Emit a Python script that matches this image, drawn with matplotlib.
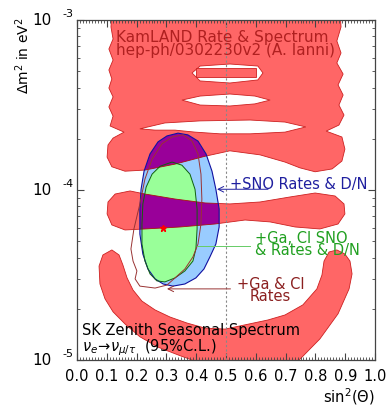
import numpy as np
import matplotlib
matplotlib.use('Agg')
import matplotlib.pyplot as plt
from matplotlib.path import Path
from matplotlib.patches import PathPatch
from matplotlib import transforms
from matplotlib.ticker import MultipleLocator, LogLocator, NullFormatter, FixedLocator

# --- KamLAND rate & spectrum region (sin^2, dm^2 in eV^2) ---
# upper band + first lobe, outer boundary
kam_upper = np.array([
    [0.883, 1.10e-3], [0.886, 9.10e-4], [0.872, 7.53e-4], [0.886, 6.40e-4],
    [0.872, 5.59e-4], [0.893, 4.81e-4], [0.876, 4.15e-4], [0.893, 3.62e-4],
    [0.879, 3.16e-4], [0.896, 2.76e-4], [0.879, 2.41e-4], [0.836, 2.22e-4],
    [0.889, 2.05e-4], [0.899, 1.74e-4], [0.889, 1.48e-4], [0.856, 1.33e-4],
    [0.799, 1.28e-4], [0.748, 1.35e-4], [0.698, 1.46e-4], [0.614, 1.61e-4],
    [0.513, 1.70e-4], [0.430, 1.58e-4], [0.329, 1.42e-4], [0.228, 1.31e-4],
    [0.161, 1.29e-4], [0.117, 1.37e-4], [0.101, 1.56e-4], [0.104, 1.84e-4],
    [0.121, 2.02e-4], [0.158, 2.19e-4], [0.111, 2.38e-4], [0.121, 2.72e-4],
    [0.107, 3.08e-4], [0.121, 3.53e-4], [0.107, 3.98e-4], [0.117, 4.50e-4],
    [0.107, 5.08e-4], [0.121, 5.82e-4], [0.107, 6.75e-4], [0.121, 7.73e-4],
    [0.114, 9.10e-4], [0.117, 1.10e-3]])
# holes inside the upper band
kam_hole1 = np.array([
    [0.386, 4.88e-4], [0.413, 5.36e-4], [0.513, 5.51e-4], [0.607, 5.36e-4],
    [0.624, 4.88e-4], [0.607, 4.44e-4], [0.513, 4.26e-4], [0.413, 4.38e-4]])
kam_island = np.array([
    [0.399, 5.22e-4], [0.601, 5.22e-4], [0.601, 4.62e-4], [0.399, 4.62e-4]])
kam_hole2 = np.array([
    [0.352, 3.38e-4], [0.413, 3.57e-4], [0.513, 3.67e-4], [0.597, 3.57e-4],
    [0.648, 3.38e-4], [0.597, 3.21e-4], [0.513, 3.12e-4], [0.413, 3.16e-4]])
kam_hole3 = np.array([
    [0.211, 2.29e-4], [0.295, 2.48e-4], [0.413, 2.55e-4], [0.581, 2.58e-4],
    [0.698, 2.51e-4], [0.768, 2.35e-4], [0.698, 2.19e-4], [0.581, 2.14e-4],
    [0.480, 2.14e-4], [0.396, 2.19e-4], [0.329, 2.25e-4], [0.262, 2.25e-4]])
# second lobe
kam_lobe2 = np.array([
    [0.128, 9.47e-5], [0.178, 9.87e-5], [0.228, 9.47e-5], [0.329, 8.85e-5],
    [0.430, 8.39e-5], [0.513, 8.28e-5], [0.614, 8.50e-5], [0.715, 9.10e-5],
    [0.799, 9.60e-5], [0.866, 9.22e-5], [0.896, 8.28e-5], [0.899, 7.23e-5],
    [0.876, 6.31e-5], [0.815, 5.90e-5], [0.732, 6.06e-5], [0.648, 6.49e-5],
    [0.564, 6.66e-5], [0.463, 6.31e-5], [0.346, 6.06e-5], [0.289, 5.98e-5],
    [0.228, 5.90e-5], [0.161, 5.82e-5], [0.117, 6.23e-5], [0.101, 7.23e-5],
    [0.104, 8.50e-5]])
# low dm^2 banana
kam_banana = np.array([
    [0.117, 4.44e-5], [0.087, 4.15e-5], [0.074, 3.57e-5], [0.077, 2.80e-5],
    [0.094, 2.29e-5], [0.121, 1.92e-5], [0.161, 1.63e-5], [0.211, 1.37e-5],
    [0.272, 1.19e-5], [0.346, 1.06e-5], [0.413, 9.60e-6], [0.547, 8.62e-6],
    [0.698, 9.10e-6], [0.748, 1.01e-5], [0.815, 1.33e-5], [0.876, 1.87e-5],
    [0.913, 2.62e-5], [0.923, 3.21e-5], [0.916, 3.82e-5], [0.899, 4.20e-5],
    [0.872, 4.44e-5], [0.846, 4.32e-5], [0.829, 3.82e-5], [0.822, 3.16e-5],
    [0.805, 2.62e-5], [0.758, 2.11e-5], [0.698, 1.84e-5], [0.641, 1.72e-5],
    [0.564, 1.61e-5], [0.497, 1.52e-5], [0.430, 1.54e-5], [0.369, 1.65e-5],
    [0.312, 1.79e-5], [0.262, 1.97e-5], [0.218, 2.22e-5], [0.188, 2.58e-5],
    [0.168, 3.04e-5], [0.154, 3.62e-5], [0.141, 4.15e-5]])

# --- solar regions ---
sno_region = np.array([
    [0.339, 2.16e-4], [0.372, 2.11e-4], [0.406, 1.94e-4], [0.433, 1.63e-4],
    [0.453, 1.29e-4], [0.466, 1.01e-4], [0.477, 7.73e-5], [0.477, 6.06e-5],
    [0.466, 4.81e-5], [0.446, 4.04e-5], [0.426, 3.43e-5], [0.399, 3.04e-5],
    [0.362, 2.80e-5], [0.322, 2.72e-5], [0.289, 2.80e-5], [0.262, 3.00e-5],
    [0.238, 3.43e-5], [0.221, 4.20e-5], [0.211, 5.51e-5], [0.211, 7.73e-5],
    [0.215, 1.01e-4], [0.225, 1.29e-4], [0.245, 1.63e-4], [0.272, 1.92e-4],
    [0.302, 2.08e-4]])
gacl_sno_region = np.array([
    [0.319, 1.46e-4], [0.352, 1.40e-4], [0.379, 1.24e-4], [0.396, 1.01e-4],
    [0.403, 7.73e-5], [0.403, 5.90e-5], [0.399, 4.50e-5], [0.389, 3.82e-5],
    [0.362, 3.34e-5], [0.329, 3.04e-5], [0.295, 2.88e-5], [0.268, 2.92e-5],
    [0.245, 3.21e-5], [0.228, 3.82e-5], [0.218, 4.81e-5], [0.218, 6.31e-5],
    [0.221, 8.28e-5], [0.232, 1.04e-4], [0.252, 1.24e-4], [0.279, 1.38e-4]])
gacl_rates = np.array([
    [0.356, 2.11e-4], [0.386, 1.94e-4], [0.406, 1.63e-4], [0.416, 1.24e-4],
    [0.419, 8.85e-5], [0.416, 6.31e-5], [0.406, 4.81e-5], [0.389, 4.04e-5],
    [0.362, 3.43e-5], [0.329, 3.04e-5], [0.302, 2.76e-5], [0.262, 2.65e-5],
    [0.211, 2.72e-5], [0.195, 3.00e-5], [0.201, 3.34e-5], [0.188, 3.82e-5],
    [0.181, 4.50e-5], [0.191, 5.90e-5], [0.211, 8.28e-5], [0.228, 1.16e-4],
    [0.252, 1.52e-4], [0.285, 1.87e-4], [0.319, 2.05e-4]])
best_fit = (0.289, 6.0e-5)

# label pointer lines: (sin2 from, sin2 to, dm2)
sno_pointer = (0.641, 0.470, 1.01e-4)
gacl_sno_pointer = (0.581, 0.403, 4.69e-5)
gacl_pointer = (0.515, 0.302, 2.62e-5)

xtick_vals = np.arange(0, 11) / 10
ytick_exp = [-3, -4, -5]

RED = '#FF6666'
RED_EDGE = '#CC2020'
PURPLE = '#990099'
BLUE = '#99CCFF'
GREEN = '#99FF99'


def ring(pts, ccw):
    pts = np.asarray(pts, float)
    x, y = pts[:, 0], np.log10(pts[:, 1])
    area = 0.5 * np.sum(x * np.roll(y, -1) - np.roll(x, -1) * y)
    if (area > 0) != ccw:
        pts = pts[::-1]
    return pts


def make_path(outer, holes=()):
    verts, codes = [], []
    for r in [ring(outer, True)] + [ring(h, False) for h in holes]:
        verts += list(r) + [r[0]]
        codes += [Path.MOVETO] + [Path.LINETO] * (len(r) - 1) + [Path.CLOSEPOLY]
    return Path(verts, codes)


fig = plt.figure(figsize=(3.91, 4.14), dpi=100)
ax = fig.add_axes([77 / 391, 1 - 361 / 414, 298 / 391, 340 / 414])
ax.set_yscale('log')
ax.set_xlim(0, 1)
ax.set_ylim(1e-5, 1e-3)

kam_paths = [make_path(kam_upper, [kam_hole1, kam_hole2, kam_hole3]),
             make_path(kam_lobe2), make_path(kam_banana)]
for p in kam_paths:
    ax.add_patch(PathPatch(p, fc=RED, ec=RED_EDGE, lw=0.6, zorder=1))
ax.add_patch(PathPatch(make_path(kam_island), fc=RED, ec=RED_EDGE, lw=0.6, zorder=1.1))

sno_patch = PathPatch(make_path(sno_region), fc=BLUE, ec='none', zorder=2)
ax.add_patch(sno_patch)
ax.add_patch(PathPatch(make_path(gacl_sno_region), fc=GREEN, ec='none', zorder=3))

# KamLAND overlapping the solar region shows up purple
for p in kam_paths[:2]:
    pp = PathPatch(p, fc=PURPLE, ec='#AA1010', lw=0.6, zorder=4)
    ax.add_patch(pp)
    pp.set_clip_path(sno_patch)

ax.add_patch(PathPatch(make_path(sno_region), fc='none', ec='#1010A0', lw=0.8, zorder=5))
ax.add_patch(PathPatch(make_path(gacl_sno_region), fc='none', ec='#106010', lw=0.7, zorder=5))
ax.add_patch(PathPatch(make_path(gacl_rates), fc='none', ec='#993333', lw=0.7, zorder=6))

ax.plot(*best_fit, marker='*', color='red', ms=5, zorder=8)
ax.axvline(0.5, color='#888888', lw=0.8, ls=(0, (2, 2)), zorder=7)

# pointers to the labels
ax.annotate('', xy=(sno_pointer[1], sno_pointer[2]), xytext=(sno_pointer[0], sno_pointer[2]),
            arrowprops=dict(arrowstyle='->', color='#2020A0', lw=0.7, shrinkA=0, shrinkB=0),
            zorder=9)
ax.plot(gacl_sno_pointer[:2], [gacl_sno_pointer[2]] * 2, color='#66CC66', lw=0.7, zorder=9)
ax.annotate('', xy=(gacl_pointer[1], gacl_pointer[2]), xytext=(gacl_pointer[0], gacl_pointer[2]),
            arrowprops=dict(arrowstyle='->', color='#993333', lw=0.7, shrinkA=0, shrinkB=0),
            zorder=9)

# texts
ax.text(0.131, 0.932, 'KamLAND Rate & Spectrum\nhep-ph/0302230v2 (A. Ianni)',
        transform=ax.transAxes, color='#B02020', fontsize=11, va='center', ha='left',
        linespacing=0.8, zorder=10)
ax.text(0.513, 0.518, '+SNO Rates & D/N', transform=ax.transAxes,
        color='#1F1F9F', fontsize=10.5, va='center', ha='left', zorder=10)
ax.text(0.597, 0.343, '+Ga, Cl SNO\n& Rates & D/N', transform=ax.transAxes,
        color='#20A020', fontsize=10.5, va='center', ha='left', linespacing=0.78, zorder=10)
ax.text(0.650, 0.206, '+Ga & Cl\nRates', transform=ax.transAxes,
        color='#8B2020', fontsize=10.5, va='center', ha='center', multialignment='center',
        linespacing=0.75, zorder=10)
ax.text(0.017, 0.091, 'SK Zenith Seasonal Spectrum', transform=ax.transAxes,
        color='black', fontsize=10.5, va='center', ha='left', zorder=10)
ax.text(0.017, 0.040, r'$\nu_e\!\rightarrow\!\nu_{\mu/\tau}$  (95%C.L.)', transform=ax.transAxes,
        color='black', fontsize=10.5, va='center', ha='left', zorder=10)

ax.text(-0.181, 1.01, r'$\Delta$m$^2$ in eV$^2$', transform=ax.transAxes,
        rotation=90, fontsize=10, va='top', ha='center')
ax.text(1.0, -0.106, r'sin$^2$($\Theta$)', transform=ax.transAxes,
        fontsize=10.5, va='center', ha='right')

# axes, ticks
ax.xaxis.set_major_locator(FixedLocator(xtick_vals))
ax.set_xticklabels(['%.1f' % v for v in xtick_vals])
ax.xaxis.set_minor_locator(MultipleLocator(0.01))
ax.set_yticks([10.0 ** e for e in ytick_exp])
ax.yaxis.set_major_formatter(NullFormatter())
ax.yaxis.set_minor_locator(LogLocator(base=10, subs=np.arange(2, 10)))
ax.yaxis.set_minor_formatter(NullFormatter())
ax.tick_params(which='both', direction='in', top=True, right=True, color='#444444')
ax.tick_params(which='major', length=5, width=0.8, labelsize=10.5, pad=6)
ax.tick_params(which='minor', length=2.5, width=0.6)
for s in ax.spines.values():
    s.set_color('#444444')
    s.set_linewidth(0.9)

blend = transforms.blended_transform_factory(ax.transAxes, ax.transData)
for e in ytick_exp:
    ax.text(-0.084, 10.0 ** e, '10', transform=blend, fontsize=11, ha='right', va='center')
    ax.annotate('%d' % e, xy=(-0.05, 10.0 ** e), xycoords=blend, xytext=(0, 5),
                textcoords='offset points', fontsize=8, ha='left', va='center')

fig.savefig('out.png', dpi=100)
